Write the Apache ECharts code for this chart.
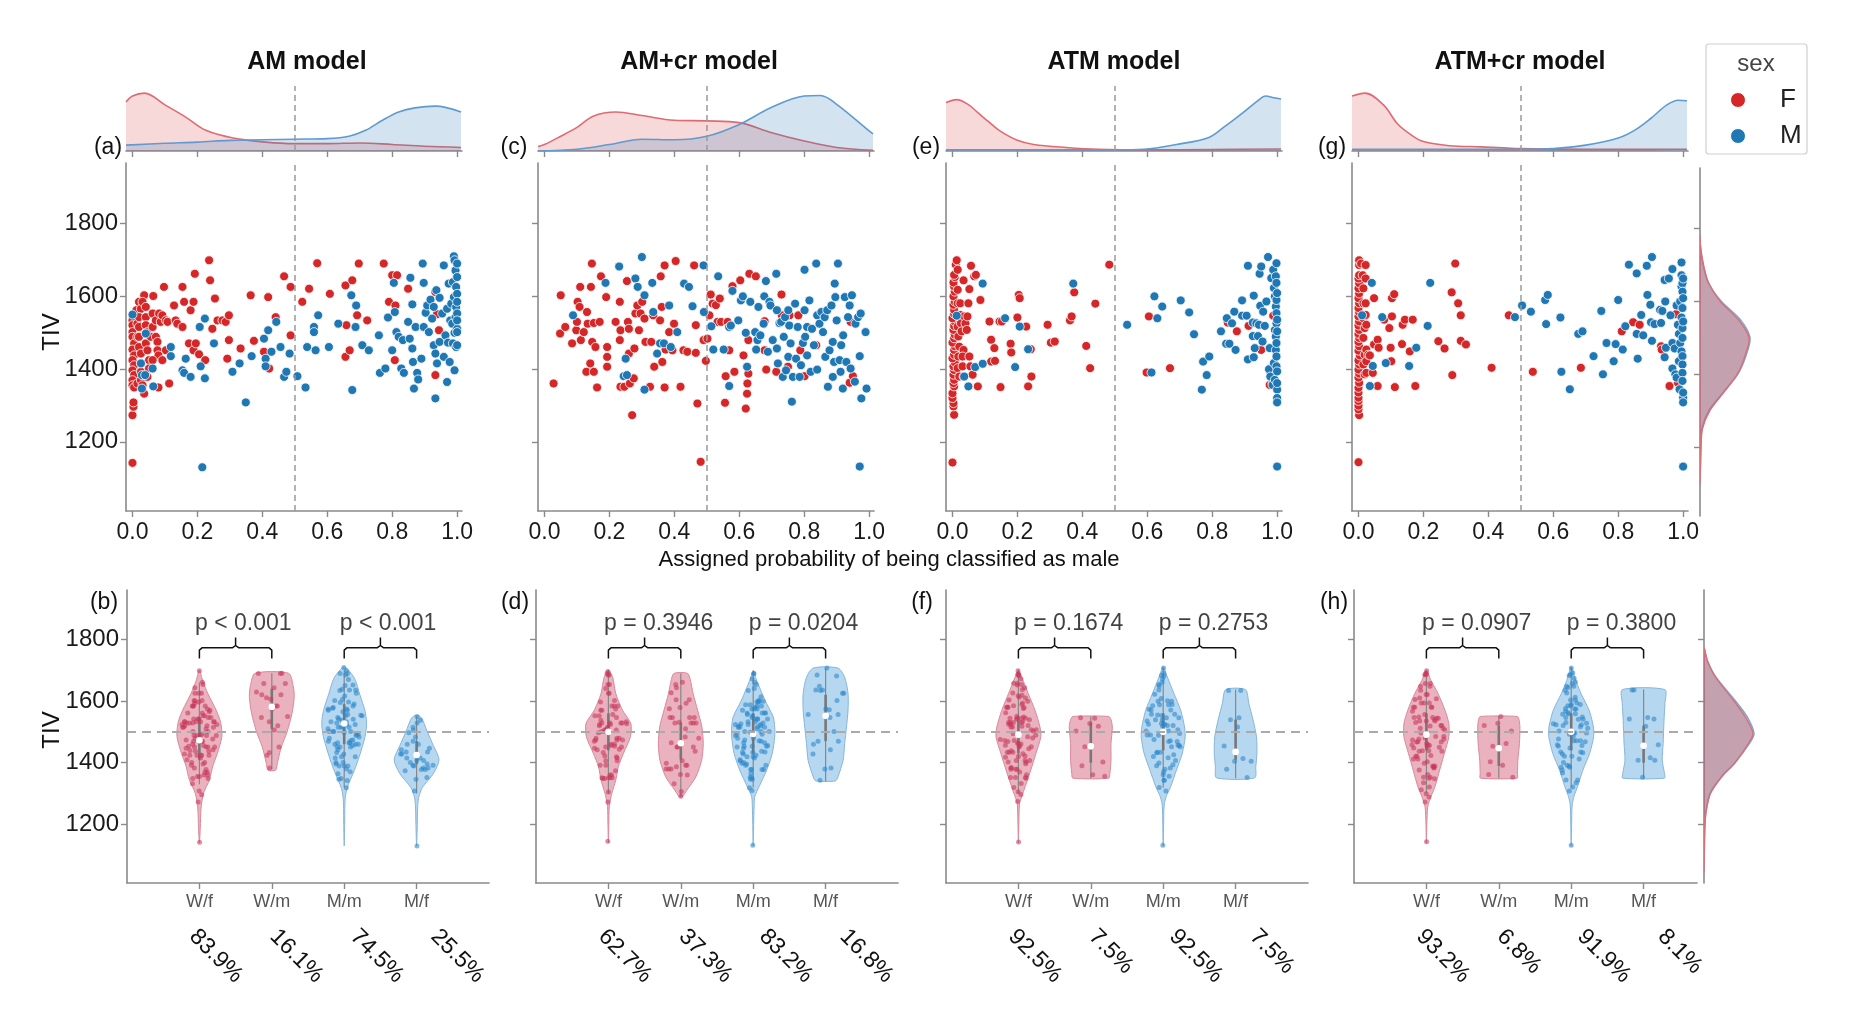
<!DOCTYPE html>
<html>
<head>
<meta charset="utf-8">
<script src="https://cdn.jsdelivr.net/npm/echarts@6/dist/echarts.min.js"></script>
<style>
  html, body { margin: 0; padding: 0; background: #fff; }
  #chart { width: 1858px; height: 1027px; }
</style>
</head>
<body>
<div id="chart"></div>
<script>
// ---- data ----
const models = ['AM model', 'AM+cr model', 'ATM model', 'ATM+cr model'];
const topTags = ['(a)', '(c)', '(e)', '(g)'];
const bottomTags = ['(b)', '(d)', '(f)', '(h)'];
const groups = ['W/f', 'W/m', 'M/m', 'M/f'];
const probTicks = [0, 0.2, 0.4, 0.6, 0.8, 1.0];
const tivTicks = [1200, 1400, 1600, 1800];
const pTexts = [['p < 0.001', 'p < 0.001'], ['p = 0.3946', 'p = 0.0204'], ['p = 0.1674', 'p = 0.2753'], ['p = 0.0907', 'p = 0.3800']];
const shares = [['83.9%', '16.1%', '74.5%', '25.5%'], ['62.7%', '37.3%', '83.2%', '16.8%'], ['92.5%', '7.5%', '92.5%', '7.5%'], ['93.2%', '6.8%', '91.9%', '8.1%']];

// scatter: [probability of male, TIV]
const amF = [[0,1142],[0,1273],[0.003,1296],[0.003,1308],[0,1533],[0,1520],[0,1501],[0,1488],[0.005,1470],[0,1453],[0.005,1437],[0,1424],[0.005,1410],[0,1396],[0.005,1383],[0,1369],[0,1355],[0.005,1349],
[0.015,1360],[0.015,1488],[0.015,1524],[0.012,1561],[0.02,1584],[0.026,1565],[0.02,1542],[0.02,1515],[0.02,1488],[0.02,1460],[0.026,1442],[0.026,1415],[0.026,1392],[0.026,1369],[0.031,1355],[0.036,1332],
[0.036,1602],[0.031,1584],[0.041,1570],[0.041,1542],[0.041,1520],[0.046,1501],[0.041,1470],[0.046,1451],[0.051,1424],[0.051,1401],[0.046,1378],
[0.056,1488],[0.062,1515],[0.062,1552],[0.064,1600],[0.072,1533],[0.072,1488],[0.077,1474],[0.077,1451],[0.08,1437],[0.08,1349],[0.082,1552],[0.087,1529],[0.092,1547],[0.097,1625],[0.103,1533],[0.103,1451],[0.108,1529],[0.113,1360],[0.092,1424],[0.062,1424],
[0.128,1574],[0.133,1533],[0.138,1524],[0.154,1625],[0.159,1584],[0.154,1515],[0.174,1470],[0.179,1561],[0.188,1584],[0.188,1451],[0.192,1661],[0.195,1470],[0.205,1440],[0.224,1424],[0.236,1698],[0.239,1643],[0.246,1510],[0.254,1593],[0.262,1533],[0.277,1533],[0.287,1529],[0.297,1547],[0.297,1479],[0.292,1428],[0.333,1456],[0.364,1602],[0.374,1477],[0.418,1597],[0.405,1447],[0.421,1401],[0.441,1542],[0.467,1654],[0.487,1492],[0.487,1625],
[0.523,1584],[0.544,1620],[0.569,1690],[0.608,1606],[0.656,1629],[0.659,1520],[0.656,1433],[0.669,1451],[0.677,1643],[0.692,1547],[0.697,1689],[0.723,1533],[0.774,1689],[0.79,1584],[0.8,1657],[0.815,1657],[0.81,1574],[0.808,1424],[0.849,1620],[0.933,1611],[0.938,1550],[0.944,1506],[0.933,1383]];
const amM = [[0,1549],[0.026,1415],[0.029,1383],[0.029,1346],[0.041,1497],[0.039,1383],[0.062,1401],[0.064,1352],[0.118,1460],[0.118,1435],[0.154,1396],[0.159,1389],[0.164,1428],[0.179,1378],[0.207,1515],[0.223,1538],[0.21,1407],[0.223,1374],[0.215,1130],[0.251,1470],[0.308,1392],[0.33,1415],[0.349,1308],[0.367,1435],[0.405,1483],[0.41,1428],[0.41,1407],[0.418,1506],[0.428,1447],[0.443,1529],[0.456,1460],[0.467,1378],[0.474,1392],[0.484,1442],
[0.508,1380],[0.533,1349],[0.538,1460],[0.559,1515],[0.559,1501],[0.564,1451],[0.572,1547],[0.605,1460],[0.634,1524],[0.674,1602],[0.677,1342],[0.687,1515],[0.689,1574],[0.708,1465],[0.728,1451],[0.759,1492],[0.762,1389],[0.779,1401],[0.787,1541],[0.8,1451],[0.805,1636],[0.808,1556],[0.813,1501],[0.82,1488],[0.828,1401],[0.833,1479],[0.836,1389],[0.849,1529],[0.854,1483],[0.856,1650],[0.862,1577],[0.862,1456],[0.864,1419],[0.867,1346],[0.872,1515],[0.877,1389],[0.88,1371],[0.89,1428],[0.894,1689],[0.897,1636],[0.897,1515],[0.903,1554],[0.908,1574],[0.913,1501],[0.918,1590],[0.923,1538],[0.928,1570],[0.928,1465],[0.933,1442],[0.933,1319],[0.936,1616],[0.938,1415],[0.946,1474],[0.946,1595],[0.954,1552],[0.959,1684],[0.959,1433],[0.964,1492],[0.969,1565],[0.969,1364],[0.972,1472],[0.974,1634],[0.977,1419],[0.979,1533],[0.982,1579],[0.985,1524],[0.987,1638],[0.987,1470],[0.99,1597],[0.99,1709],[0.992,1698],[0.992,1499],[0.992,1396],[0.995,1670],[0.995,1542],[0.997,1625],[0.997,1570],[0.997,1460],[1,1689],[1,1606],[1,1510],[1,1501],[1,1465],[1,1652],[1,1552],[1,1533],[1,1584]];

const amcrF = [[0.028,1360],[0.048,1497],[0.05,1602],[0.064,1515],[0.085,1470],[0.098,1506],[0.1,1529],[0.102,1584],[0.11,1625],[0.108,1570],[0.112,1479],[0.121,1501],[0.129,1392],[0.131,1556],[0.133,1524],[0.141,1415],[0.143,1625],[0.146,1689],[0.147,1474],[0.152,1392],[0.152,1526],[0.157,1460],[0.162,1349],[0.17,1529],[0.174,1654],[0.19,1597],[0.193,1460],[0.193,1433],[0.193,1406],[0.219,1529],[0.232,1479],[0.232,1584],[0.234,1506],[0.234,1351],[0.246,1351],[0.254,1641],[0.257,1529],[0.26,1510],[0.26,1442],[0.263,1360],[0.27,1273],[0.275,1374],[0.277,1456],[0.28,1552],[0.286,1574],[0.291,1506],[0.296,1552],[0.301,1584],[0.308,1538],[0.311,1474],[0.325,1351],[0.329,1474],[0.335,1547],[0.338,1406],[0.356,1533],[0.358,1654],[0.361,1570],[0.363,1419],[0.37,1684],[0.37,1349],[0.373,1453],[0.384,1501],[0.394,1451],[0.399,1524],[0.404,1696],[0.419,1351],[0.428,1451],[0.44,1447],[0.461,1684],[0.466,1520],[0.466,1444],[0.471,1305],[0.481,1145],[0.49,1479],[0.497,1422],
[0.502,1483],[0.508,1547],[0.512,1604],[0.518,1579],[0.528,1575],[0.54,1593],[0.533,1529],[0.544,1529],[0.556,1307],[0.558,1380],[0.564,1529],[0.569,1451],[0.579,1627],[0.585,1392],[0.603,1643],[0.613,1437],[0.62,1291],[0.624,1332],[0.625,1360],[0.628,1387],[0.628,1479],[0.631,1661],[0.651,1654],[0.678,1451],[0.678,1531],[0.683,1398],[0.714,1392],[0.73,1604],[0.731,1547],[0.75,1406],[0.755,1547],[0.782,1547],[0.788,1451],[0.801,1380],[0.822,1510],[0.837,1465],[0.943,1529],[0.94,1362],[0.95,1380]];
const amcrM = [[0.088,1547],[0.188,1636],[0.23,1681],[0.244,1380],[0.25,1428],[0.254,1383],[0.28,1648],[0.287,1625],[0.3,1707],[0.308,1343],[0.308,1602],[0.332,1636],[0.335,1556],[0.347,1442],[0.356,1470],[0.368,1470],[0.384,1574],[0.389,1460],[0.409,1501],[0.43,1634],[0.445,1625],[0.456,1572],[0.49,1684],[0.491,1556],
[0.514,1517],[0.52,1453],[0.535,1654],[0.552,1453],[0.569,1515],[0.574,1519],[0.569,1353],[0.579,1614],[0.597,1533],[0.605,1588],[0.611,1599],[0.62,1499],[0.624,1406],[0.634,1584],[0.649,1501],[0.652,1453],[0.656,1479],[0.659,1570],[0.665,1492],[0.675,1524],[0.677,1599],[0.682,1641],[0.688,1447],[0.693,1584],[0.696,1574],[0.703,1479],[0.714,1661],[0.716,1561],[0.716,1456],[0.719,1415],[0.724,1526],[0.729,1529],[0.734,1378],[0.737,1488],[0.741,1542],[0.744,1396],[0.751,1561],[0.751,1433],[0.754,1519],[0.758,1470],[0.762,1310],[0.765,1378],[0.772,1579],[0.775,1428],[0.78,1515],[0.786,1378],[0.79,1410],[0.796,1471],[0.801,1672],[0.801,1561],[0.803,1488],[0.809,1515],[0.809,1437],[0.816,1588],[0.82,1392],[0.824,1510],[0.83,1465],[0.837,1689],[0.84,1547],[0.84,1398],[0.847,1524],[0.853,1556],[0.858,1501],[0.863,1542],[0.865,1433],[0.871,1561],[0.873,1351],[0.878,1451],[0.884,1574],[0.888,1474],[0.888,1378],[0.892,1419],[0.894,1634],[0.896,1597],[0.9,1533],[0.904,1689],[0.909,1424],[0.912,1392],[0.914,1465],[0.919,1346],[0.92,1492],[0.925,1597],[0.93,1419],[0.935,1542],[0.94,1574],[0.943,1401],[0.947,1602],[0.956,1365],[0.958,1524],[0.966,1542],[0.971,1132],[0.971,1435],[0.974,1552],[0.976,1319],[0.989,1501],[0.992,1346]];

const atmF = [[0,1143],[0.005,1274],[0.003,1297],[0.003,1306],[0,1320],[0,1333],[0.005,1352],[0.003,1361],[0.005,1370],[0.003,1384],[0.005,1397],[0.003,1407],[0.007,1418],[0,1429],[0.005,1439],[0.005,1452],[0.007,1462],[0,1472],[0.005,1484],[0.007,1494],[0.003,1507],[0.005,1518],[0.007,1530],[0,1539],[0.005,1551],[0.005,1562],[0.003,1576],[0.007,1585],[0.003,1599],[0.007,1612],[0.005,1626],[0.003,1637],[0.007,1652],[0.005,1658],[0.01,1686],[0.013,1698],[0.016,1672],[0.016,1617],[0.016,1580],[0.018,1544],[0.016,1516],[0.018,1489],[0.021,1461],[0.018,1434],[0.016,1402],[0.021,1379],[0.024,1580],[0.024,1548],[0.026,1525],[0.028,1503],[0.034,1452],[0.031,1434],[0.031,1407],[0.034,1379],[0.034,1643],[0.036,1544],[0.04,1525],[0.044,1507],[0.046,1544],[0.049,1580],[0.052,1619],[0.052,1434],[0.055,1407],[0.057,1683],[0.062,1384],[0.067,1654],[0.072,1658],[0.078,1352],[0.086,1589],[0.114,1530],[0.119,1480],[0.119,1420],[0.129,1457],[0.131,1422],[0.145,1530],[0.148,1350],[0.152,1530],[0.179,1469],[0.181,1445],[0.2,1541],[0.204,1603],[0.207,1594],[0.227,1516],[0.233,1352],[0.241,1454],[0.243,1379],[0.293,1521],[0.303,1472],[0.315,1475],[0.362,1533],[0.367,1544],[0.375,1610],[0.412,1463],[0.424,1402],[0.44,1579],[0.483,1686],
[0.605,1544],[0.598,1390],[0.67,1402],[0.848,1527],[0.876,1503],[0.912,1518],[0.951,1452],[0.977,1356],[0.986,1361],[0.988,1546]];
const atmM = [[0.013,1546],[0.036,1379],[0.049,1352],[0.07,1405],[0.093,1634],[0.093,1414],[0.162,1539],[0.193,1405],[0.207,1516],[0.233,1454],[0.372,1634],
[0.538,1521],[0.613,1390],[0.622,1599],[0.631,1539],[0.646,1571],[0.703,1588],[0.729,1555],[0.744,1495],[0.768,1343],[0.772,1420],[0.783,1383],[0.791,1434],[0.827,1503],[0.843,1469],[0.845,1539],[0.853,1469],[0.861,1525],[0.868,1557],[0.872,1452],[0.892,1588],[0.892,1546],[0.906,1546],[0.91,1683],[0.91,1426],[0.925,1527],[0.925,1490],[0.928,1601],[0.928,1432],[0.931,1457],[0.936,1525],[0.941,1490],[0.944,1521],[0.946,1661],[0.948,1573],[0.951,1681],[0.955,1475],[0.957,1557],[0.962,1518],[0.967,1585],[0.972,1707],[0.975,1399],[0.977,1457],[0.979,1379],[0.982,1649],[0.986,1356],[0.988,1672],[0.99,1622],[0.99,1416],[0.993,1599],[0.993,1507],[0.993,1370],[0.996,1654],[0.996,1571],[0.996,1489],[0.996,1452],[0.998,1690],[0.998,1636],[0.998,1589],[0.998,1553],[0.998,1525],[0.998,1471],[0.998,1434],[0.998,1407],[1,1343],[1,1320],[1,1308],[1,1608],[1,1535],[1,1503],[1,1132],[1,1393],[1,1361]];

const atmcrF = [[0,1144],[0.002,1273],[0,1289],[0,1299],[0,1312],[0,1321],[0,1335],[0,1348],[0.002,1362],[0,1376],[0.002,1387],[0,1398],[0.002,1412],[0,1423],[0.004,1437],[0,1450],[0.002,1462],[0,1474],[0.002,1485],[0,1496],[0.002,1507],[0,1519],[0.002,1530],[0,1544],[0.002,1556],[0,1567],[0.002,1580],[0,1594],[0.002,1607],[0,1621],[0.002,1635],[0,1648],[0.002,1657],[0.002,1685],[0.002,1698],[0.008,1689],[0.013,1657],[0.015,1621],[0.015,1580],[0.015,1539],[0.019,1512],[0.015,1485],[0.019,1439],[0.015,1412],[0.019,1385],[0.022,1685],[0.022,1648],[0.022,1580],[0.022,1548],[0.024,1521],[0.024,1453],[0.024,1421],[0.024,1389],[0.03,1439],[0.035,1437],[0.048,1594],[0.048,1467],[0.044,1389],[0.059,1480],[0.062,1458],[0.059,1353],[0.079,1535],[0.095,1512],[0.099,1458],[0.101,1421],[0.103,1544],[0.103,1594],[0.11,1605],[0.112,1350],[0.134,1468],[0.136,1521],[0.143,1535],[0.158,1448],[0.167,1535],[0.175,1353],[0.246,1476],[0.265,1456],[0.287,1610],[0.289,1383],[0.298,1689],[0.307,1580],[0.315,1547],[0.315,1477],[0.331,1467],[0.41,1403],[0.463,1547],
[0.537,1392],[0.685,1403],[0.811,1503],[0.846,1528],[0.866,1521],[0.932,1462],[0.934,1453],[0.958,1353],[0.978,1550],[0.984,1362]];
const atmcrM = [[0.011,1547],[0.041,1636],[0.044,1408],[0.035,1353],[0.073,1542],[0.084,1416],[0.156,1408],[0.178,1458],[0.213,1518],[0.221,1636],[0.482,1542],
[0.504,1574],[0.531,1557],[0.575,1589],[0.583,1603],[0.578,1523],[0.622,1541],[0.625,1392],[0.651,1344],[0.677,1496],[0.69,1503],[0.724,1435],[0.748,1559],[0.753,1385],[0.764,1471],[0.786,1421],[0.792,1468],[0.8,1589],[0.814,1453],[0.822,1517],[0.833,1686],[0.857,1662],[0.857,1496],[0.86,1428],[0.871,1548],[0.877,1492],[0.888,1683],[0.89,1603],[0.899,1576],[0.901,1528],[0.904,1707],[0.904,1477],[0.912,1523],[0.929,1562],[0.932,1526],[0.936,1559],[0.943,1644],[0.943,1432],[0.945,1585],[0.947,1458],[0.956,1648],[0.961,1547],[0.967,1674],[0.967,1471],[0.967,1401],[0.974,1456],[0.976,1385],[0.98,1376],[0.98,1574],[0.984,1521],[0.987,1496],[0.987,1421],[0.989,1344],[0.991,1471],[0.991,1585],[0.995,1692],[0.995,1657],[0.995,1626],[0.995,1541],[0.995,1448],[0.998,1635],[0.998,1612],[0.998,1567],[0.998,1512],[0.998,1485],[0.998,1435],[0.998,1412],[0.998,1389],[0.998,1367],[1,1321],[1,1308],[1,1335],[1,1132],[1,1648],[1,1594],[1,1530]];

// top marginal densities: [probability, relative density]
const densAmF = [[-0.02,0.83],[0,0.93],[0.037,0.98],[0.1,0.78],[0.165,0.57],[0.226,0.35],[0.31,0.22],[0.41,0.15],[0.5,0.125],[0.6,0.125],[0.7,0.135],[0.8,0.11],[0.9,0.08],[1.012,0.06]];
const densAmM = [[-0.02,0.1],[0.1,0.13],[0.2,0.15],[0.3,0.18],[0.4,0.19],[0.5,0.2],[0.6,0.21],[0.667,0.25],[0.718,0.35],[0.77,0.52],[0.82,0.66],[0.87,0.73],[0.933,0.76],[1.012,0.66]];
const densAmcrF = [[-0.02,0.075],[0,0.11],[0.05,0.25],[0.1,0.4],[0.15,0.59],[0.22,0.66],[0.3,0.6],[0.4,0.52],[0.5,0.51],[0.6,0.48],[0.7,0.31],[0.8,0.17],[0.9,0.06],[1.012,0.01]];
const densAmcrM = [[-0.02,0],[0.1,0.03],[0.2,0.11],[0.3,0.2],[0.4,0.19],[0.5,0.25],[0.6,0.45],[0.7,0.74],[0.8,0.93],[0.85,0.94],[0.9,0.79],[1,0.34],[1.012,0.29]];
const densAtmF = [[-0.02,0.82],[0.013,0.87],[0.05,0.78],[0.08,0.64],[0.11,0.5],[0.146,0.34],[0.2,0.18],[0.25,0.11],[0.35,0.06],[0.45,0.03],[0.6,0.02],[0.8,0.025],[1.012,0.035]];
const densAtmM = [[-0.02,0.02],[0.3,0.02],[0.5,0.02],[0.59,0.03],[0.69,0.11],[0.79,0.23],[0.84,0.42],[0.895,0.65],[0.94,0.85],[0.965,0.93],[0.99,0.9],[1.012,0.88]];
const densAtmcrF = [[-0.02,0.93],[0.02,0.98],[0.077,0.78],[0.12,0.46],[0.16,0.28],[0.2,0.16],[0.28,0.09],[0.38,0.07],[0.5,0.04],[0.7,0.03],[0.9,0.03],[1.012,0.03]];
const densAtmcrM = [[-0.02,0.03],[0.3,0.03],[0.5,0.03],[0.6,0.04],[0.7,0.1],[0.8,0.22],[0.85,0.35],[0.9,0.55],[0.95,0.78],[0.985,0.86],[1.012,0.85]];

// right marginal densities: [TIV, relative density]
const margJointF = [[1100,0],[1150,0.01],[1200,0.02],[1250,0.05],[1300,0.2],[1350,0.48],[1400,0.75],[1450,0.9],[1500,0.98],[1550,0.76],[1600,0.4],[1650,0.17],[1700,0.07],[1750,0.01],[1780,0]];
const margJointM = [[1100,0],[1150,0.01],[1200,0.02],[1250,0.04],[1300,0.18],[1350,0.47],[1400,0.76],[1450,0.92],[1500,1],[1550,0.8],[1600,0.42],[1650,0.17],[1700,0.06],[1750,0.01],[1780,0]];
const margViolinF = [[1050,0],[1150,0.01],[1200,0.02],[1240,0.04],[1300,0.13],[1355,0.36],[1400,0.62],[1460,0.88],[1495,0.98],[1550,0.82],[1600,0.6],[1680,0.22],[1730,0.07],[1770,0]];
const margViolinM = [[1050,0],[1150,0.01],[1200,0.02],[1240,0.04],[1300,0.12],[1355,0.35],[1400,0.62],[1460,0.9],[1495,1],[1550,0.86],[1600,0.63],[1680,0.23],[1730,0.07],[1770,0]];

// violin outlines per group (W/f, W/m, M/m, M/f): [TIV, relative half width]
const violinsAM = [
  [[1140,0],[1190,0.04],[1250,0.07],[1300,0.18],[1345,0.45],[1390,0.6],[1430,0.8],[1485,1],[1530,0.95],[1570,0.75],[1625,0.37],[1665,0.15],[1700,0]],
  [[1376,0.17],[1400,0.25],[1450,0.42],[1500,0.68],[1560,0.9],[1615,1],[1650,0.95],[1690,0.75]],
  [[1130,0],[1200,0.02],[1280,0.04],[1316,0.12],[1375,0.45],[1420,0.67],[1485,0.93],[1530,1],[1570,0.92],[1620,0.7],[1675,0.45],[1710,0]],
  [[1130,0],[1200,0.03],[1260,0.05],[1290,0.1],[1320,0.26],[1365,0.75],[1410,1],[1455,0.75],[1500,0.48],[1545,0.22],[1555,0]]
];
const violinsAMcr = [
  [[1140,0],[1200,0.02],[1257,0.04],[1300,0.15],[1344,0.33],[1387,0.44],[1430,0.67],[1484,0.98],[1527,1],[1570,0.63],[1624,0.33],[1677,0.19],[1700,0]],
  [[1290,0.07],[1310,0.26],[1354,0.67],[1408,0.93],[1462,1],[1516,0.94],[1570,0.75],[1624,0.55],[1670,0.42],[1690,0.3]],
  [[1130,0],[1200,0.02],[1260,0.04],[1290,0.07],[1322,0.26],[1376,0.6],[1430,0.85],[1484,0.96],[1516,0.96],[1549,0.89],[1603,0.52],[1668,0.15],[1695,0]],
  [[1341,0.44],[1354,0.55],[1408,0.78],[1462,0.85],[1516,0.93],[1570,1],[1624,1],[1677,0.85],[1707,0.55]]
];
const violinsATM = [
  [[1140,0],[1200,0.02],[1268,0.05],[1290,0.15],[1322,0.3],[1376,0.55],[1430,0.78],[1484,1],[1516,0.96],[1570,0.74],[1624,0.44],[1677,0.15],[1700,0]],
  [[1350,0.8],[1365,0.85],[1408,0.9],[1462,0.9],[1516,0.96],[1540,0.9],[1550,0.8]],
  [[1130,0],[1200,0.02],[1260,0.04],[1290,0.13],[1322,0.33],[1376,0.59],[1430,0.85],[1484,0.98],[1516,0.95],[1570,0.78],[1624,0.48],[1677,0.19],[1710,0]],
  [[1351,0.85],[1387,0.9],[1430,0.95],[1484,0.93],[1538,0.78],[1592,0.59],[1637,0.44]]
];
const violinsATMcr = [
  [[1140,0],[1200,0.02],[1257,0.06],[1290,0.2],[1322,0.38],[1376,0.59],[1430,0.8],[1484,1],[1527,1],[1570,0.83],[1624,0.52],[1667,0.2],[1700,0]],
  [[1350,0.82],[1365,0.83],[1408,0.85],[1462,0.92],[1516,0.94],[1540,0.9],[1550,0.83]],
  [[1130,0],[1200,0.02],[1260,0.04],[1290,0.12],[1322,0.28],[1376,0.52],[1430,0.82],[1484,1],[1516,0.99],[1570,0.8],[1624,0.44],[1667,0.2],[1710,0]],
  [[1350,0.93],[1365,0.93],[1408,0.83],[1462,0.87],[1538,0.91],[1592,0.95],[1637,0.95]]
];
// inner box: [whisker low, q1, median, q3, whisker high]
const boxAM = [[1330,1410,1473,1548,1660],[1380,1510,1581,1640,1690],[1320,1460,1527,1590,1700],[1300,1395,1425,1470,1550]];
const boxAMcr = [[1300,1440,1500,1560,1700],[1290,1410,1463,1530,1690],[1320,1430,1493,1560,1700],[1340,1470,1552,1620,1707]];
const boxATM = [[1300,1430,1491,1550,1700],[1350,1400,1453,1530,1550],[1320,1440,1500,1560,1710],[1350,1410,1435,1540,1637]];
const boxATMcr = [[1300,1440,1491,1560,1700],[1350,1390,1447,1520,1550],[1320,1440,1500,1560,1710],[1350,1400,1455,1520,1637]];

const scatterF = [amF, amcrF, atmF, atmcrF];
const scatterM = [amM, amcrM, atmM, atmcrM];
const densF = [densAmF, densAmcrF, densAtmF, densAtmcrF];
const densM = [densAmM, densAmcrM, densAtmM, densAtmcrM];
const violins = [violinsAM, violinsAMcr, violinsATM, violinsATMcr];
const boxes = [boxAM, boxAMcr, boxATM, boxATMcr];

// ---- layout ----
const FONT = 'Liberation Sans';
const RED = '#d62728', BLUE = '#1f77b4';
const SC_LEFT = [126, 538, 946, 1352], SC_W = 336, SC_TOP = 163, SC_H = 348;
const DN_TOP = 86, DN_H = 65;
const VL_LEFT = [127, 536, 946, 1354], VL_W = [362, 362, 362, 343], VL_TOP = 590, VL_H = 293;
const CAT_PX = 72.4, VW = 0.31;
const X_MIN = -0.02, X_MAX = 1.015, Y_MIN = 1010;

const axisLine = { show: true, onZero: false, lineStyle: { color: '#8a8a8a', width: 1.6 } };
const tickStyle = { show: true, length: 6, inside: false, lineStyle: { color: '#8a8a8a', width: 1.4 } };
const plain = v => String(v);

const grids = [], xAxes = [], yAxes = [], series = [];
function addGrid(g, xa, ya) {
  grids.push(Object.assign({ outerBoundsMode: 'none' }, g));
  const i = grids.length - 1;
  xAxes.push(Object.assign({ gridIndex: i, splitLine: { show: false } }, xa));
  yAxes.push(Object.assign({ gridIndex: i, splitLine: { show: false } }, ya));
  return i;
}

function interp(prof, t) {
  if (t <= prof[0][0]) return prof[0][1];
  const last = prof[prof.length - 1];
  if (t >= last[0]) return last[1];
  for (let j = 1; j < prof.length; j++) {
    if (t <= prof[j][0]) {
      const a = prof[j - 1], b = prof[j];
      return a[1] + (b[1] - a[1]) * (t - a[0]) / (b[0] - a[0]);
    }
  }
  return 0;
}

for (let i = 0; i < 4; i++) {
  // top density
  const gd = addGrid({ left: SC_LEFT[i], top: DN_TOP, width: SC_W, height: DN_H },
    { type: 'value', min: X_MIN, max: X_MAX, axisLine, axisTick: Object.assign({ customValues: probTicks }, tickStyle), axisLabel: { show: false } },
    { type: 'value', min: 0, max: 1.1, show: false });
  series.push({
    type: 'line', xAxisIndex: gd, yAxisIndex: gd, data: densF[i], smooth: 0.35, symbol: 'none', z: 2,
    lineStyle: { color: '#de6b73', width: 1.6 }, areaStyle: { color: 'rgba(214,39,40,0.25)' },
    markLine: { silent: true, symbol: 'none', label: { show: false }, lineStyle: { color: '#9a9a9a', type: [6, 4], width: 1.5 }, data: [{ xAxis: 0.5 }] }
  });
  series.push({
    type: 'line', xAxisIndex: gd, yAxisIndex: gd, data: densM[i], smooth: 0.35, symbol: 'none', z: 3,
    lineStyle: { color: '#5f9ad0', width: 1.6 }, areaStyle: { color: 'rgba(31,119,180,0.28)' }
  });

  // joint scatter
  const gs = addGrid({ left: SC_LEFT[i], top: SC_TOP, width: SC_W, height: SC_H },
    { type: 'value', min: X_MIN, max: X_MAX, axisLine, axisTick: Object.assign({ customValues: probTicks }, tickStyle),
      axisLabel: { show: true, customValues: probTicks, formatter: v => v.toFixed(1), color: '#1a1a1a', fontSize: 23, fontFamily: FONT, margin: 10 } },
    { type: 'value', min: Y_MIN, max: 1965, axisLine, axisTick: Object.assign({ customValues: tivTicks }, tickStyle),
      axisLabel: { show: i === 0, customValues: tivTicks, formatter: plain, color: '#1a1a1a', fontSize: 24, fontFamily: FONT, margin: 8 } });
  series.push({
    type: 'scatter', xAxisIndex: gs, yAxisIndex: gs, data: scatterF[i], symbolSize: 9, z: 3,
    itemStyle: { color: RED, borderColor: '#fff', borderWidth: 0.8, opacity: 1 },
    markLine: { silent: true, symbol: 'none', label: { show: false }, lineStyle: { color: '#9a9a9a', type: [6, 4], width: 1.5 }, data: [{ xAxis: 0.5 }] }
  });
  series.push({
    type: 'scatter', xAxisIndex: gs, yAxisIndex: gs, data: scatterM[i], symbolSize: 9, z: 3,
    itemStyle: { color: BLUE, borderColor: '#fff', borderWidth: 0.8, opacity: 1 }
  });

  // violins
  const xMax = -1 + VL_W[i] / CAT_PX;
  const gv = addGrid({ left: VL_LEFT[i], top: VL_TOP, width: VL_W[i], height: VL_H },
    { type: 'value', min: -1, max: xMax, axisLine, axisTick: Object.assign({ customValues: [0, 1, 2, 3] }, tickStyle),
      axisLabel: { show: true, customValues: [0, 1, 2, 3], formatter: v => groups[Math.round(v)], color: '#555', fontSize: 18, fontFamily: FONT, margin: 10 } },
    { type: 'value', min: Y_MIN, max: 1960, axisLine, axisTick: Object.assign({ customValues: tivTicks }, tickStyle),
      axisLabel: { show: i === 0, customValues: tivTicks, formatter: plain, color: '#1a1a1a', fontSize: 24, fontFamily: FONT, margin: 8 } });
  const prof = violins[i], box = boxes[i];
  series.push({
    type: 'custom', xAxisIndex: gv, yAxisIndex: gv, data: [[0, 1500], [1, 1500], [2, 1500], [3, 1500]], encode: { x: 0, y: 1 }, z: 2,
    renderItem: (params, api) => {
      const k = api.value(0), p = prof[k], b = box[k], isF = k < 2;
      const right = p.map(([t, r]) => api.coord([k + r * VW, t]));
      const left = [];
      for (let j = p.length - 1; j >= 0; j--) {
        if (p[j][1] === 0 && (j === 0 || j === p.length - 1)) continue;
        left.push(api.coord([k - p[j][1] * VW, p[j][0]]));
      }
      const lo = api.coord([k, b[0]]), q1 = api.coord([k, b[1]]), q3 = api.coord([k, b[3]]), hi = api.coord([k, b[4]]);
      return {
        type: 'group', children: [
          { type: 'polygon', shape: { points: right.concat(left), smooth: 0.25 },
            style: { fill: isF ? 'rgba(205,70,100,0.42)' : 'rgba(80,160,220,0.42)', stroke: isF ? '#d98a9c' : '#86b6da', lineWidth: 1 } },
          { type: 'line', shape: { x1: lo[0], y1: lo[1], x2: hi[0], y2: hi[1] }, style: { stroke: '#888', lineWidth: 1.2 } },
          { type: 'line', shape: { x1: q1[0], y1: q1[1], x2: q3[0], y2: q3[1] }, style: { stroke: '#777', lineWidth: 2.6 } }
        ]
      };
    },
    markLine: { silent: true, symbol: 'none', label: { show: false }, lineStyle: { color: '#aaaaaa', type: [9, 6], width: 2 }, data: [{ yAxis: 1500 }] }
  });
  // strip points derived from the joint scatter groups
  const F = scatterF[i], M = scatterM[i];
  const groupTiv = [F.filter(d => d[0] < 0.5), F.filter(d => d[0] >= 0.5), M.filter(d => d[0] >= 0.5), M.filter(d => d[0] < 0.5)].map(a => a.map(d => d[1]));
  groupTiv.forEach((tivs, k) => {
    const pts = tivs.map((t, j) => {
      const u = ((j + 1) * 0.6180339887) % 1;
      const r = Math.max(interp(prof[k], t), 0.04);
      return [k + (u * 2 - 1) * r * VW * 0.85, t];
    });
    series.push({ type: 'scatter', xAxisIndex: gv, yAxisIndex: gv, data: pts, symbolSize: 5, z: 3, silent: true,
      itemStyle: { color: k < 2 ? '#c8385c' : '#2b86c9', opacity: 0.58 } });
  });
  series.push({
    type: 'custom', xAxisIndex: gv, yAxisIndex: gv, data: [[0, 1500], [1, 1500], [2, 1500], [3, 1500]], encode: { x: 0, y: 1 }, z: 4,
    renderItem: (params, api) => {
      const k = api.value(0), c = api.coord([k, box[k][2]]);
      return { type: 'circle', shape: { cx: c[0], cy: c[1], r: 3.3 }, style: { fill: '#fff' } };
    }
  });
  // p-value brackets
  [0, 2].forEach((k0, n) => {
    series.push({ type: 'line', xAxisIndex: gv, yAxisIndex: gv, symbol: 'none', z: 5, silent: true,
      lineStyle: { color: '#111', width: 1.5 },
      data: [[k0, 1738], [k0, 1765], [k0 + 0.04, 1773], [k0 + 0.46, 1773], [k0 + 0.5, 1780], [k0 + 0.5, 1806], [k0 + 0.5, 1780], [k0 + 0.54, 1773], [k0 + 0.96, 1773], [k0 + 1, 1765], [k0 + 1, 1738]] });
    series.push({ type: 'scatter', xAxisIndex: gv, yAxisIndex: gv, symbolSize: 1, z: 5, silent: true, itemStyle: { color: 'transparent' },
      data: [{ name: pTexts[i][n], value: [k0 - 0.06, 1851] }],
      label: { show: true, position: 'inside', align: 'left', verticalAlign: 'middle', formatter: '{b}', color: '#111', fontSize: 23, fontFamily: FONT } });
  });
}

// right marginal densities (ATM+cr)
function margSeries(g, dens, fill, stroke, z) {
  return { type: 'custom', xAxisIndex: g, yAxisIndex: g, data: [[0, 1500]], encode: { x: 0, y: 1 }, z, clip: true,
    renderItem: (params, api) => ({ type: 'polygon', shape: { points: dens.map(([t, r]) => api.coord([r, t])), smooth: 0.3 },
      style: { fill, stroke, lineWidth: 1.4 } }) };
}
const gmj = addGrid({ left: 1700, top: 168, width: 60, height: SC_H },
  { type: 'value', min: 0, max: 1.2, show: false },
  { type: 'value', min: Y_MIN, max: 1965, axisLine, axisTick: Object.assign({ customValues: tivTicks }, tickStyle), axisLabel: { show: false } });
series.push(margSeries(gmj, margJointM, 'rgba(31,119,180,0.3)', '#7aa6d2', 2));
series.push(margSeries(gmj, margJointF, 'rgba(214,39,40,0.3)', '#d8707a', 3));
const gmv = addGrid({ left: 1704, top: VL_TOP, width: 60, height: VL_H },
  { type: 'value', min: 0, max: 1.2, show: false },
  { type: 'value', min: Y_MIN, max: 1960, axisLine, axisTick: Object.assign({ customValues: tivTicks }, tickStyle), axisLabel: { show: false } });
series.push(margSeries(gmv, margViolinM, 'rgba(31,119,180,0.3)', '#7aa6d2', 2));
series.push(margSeries(gmv, margViolinF, 'rgba(214,39,40,0.3)', '#d8707a', 3));

// ---- text and legend ----
const txt = (x, y, text, size, extra) => ({ type: 'text', x, y, silent: true,
  style: Object.assign({ text, fontSize: size, fontFamily: FONT, fill: '#111', align: 'center', verticalAlign: 'middle' }, extra || {}) });
const graphic = [];
const titleX = [307, 699, 1114, 1520];
models.forEach((m, i) => graphic.push(txt(titleX[i], 62, m, 25, { fontWeight: 'bold' })));
const tagTopX = [108, 514, 926, 1332], tagBotX = [104, 515, 922, 1334];
topTags.forEach((t, i) => graphic.push(txt(tagTopX[i], 148, t, 23)));
bottomTags.forEach((t, i) => graphic.push(txt(tagBotX[i], 603, t, 23)));
graphic.push(Object.assign(txt(52, 332, 'TIV', 24), { rotation: Math.PI / 2 }));
graphic.push(Object.assign(txt(52, 730, 'TIV', 24), { rotation: Math.PI / 2 }));
graphic.push(txt(889, 560, 'Assigned probability of being classified as male', 22));
shares.forEach((row, i) => row.forEach((s, k) => {
  graphic.push(Object.assign(txt(VL_LEFT[i] + 74 + 80.5 * k, 925, s, 23, { align: 'left', verticalAlign: 'top' }), { rotation: -Math.PI / 4 }));
}));
graphic.push({ type: 'rect', silent: true, shape: { x: 1706, y: 44, width: 101, height: 110, r: 3 }, style: { fill: '#fff', stroke: '#cfcfcf', lineWidth: 1.2 } });
graphic.push(txt(1756, 64, 'sex', 24, { fill: '#444' }));
graphic.push({ type: 'circle', silent: true, shape: { cx: 1738, cy: 100, r: 7.5 }, style: { fill: RED, stroke: '#fff', lineWidth: 1 } });
graphic.push({ type: 'circle', silent: true, shape: { cx: 1738, cy: 136, r: 7.5 }, style: { fill: BLUE, stroke: '#fff', lineWidth: 1 } });
graphic.push(txt(1780, 100, 'F', 26, { align: 'left', fill: '#222' }));
graphic.push(txt(1780, 136, 'M', 26, { align: 'left', fill: '#222' }));

const chart = echarts.init(document.getElementById('chart'));
chart.setOption({
  backgroundColor: '#fff',
  animation: false,
  textStyle: { fontFamily: FONT },
  grid: grids,
  xAxis: xAxes,
  yAxis: yAxes,
  series,
  graphic
});
</script>
</body>
</html>
